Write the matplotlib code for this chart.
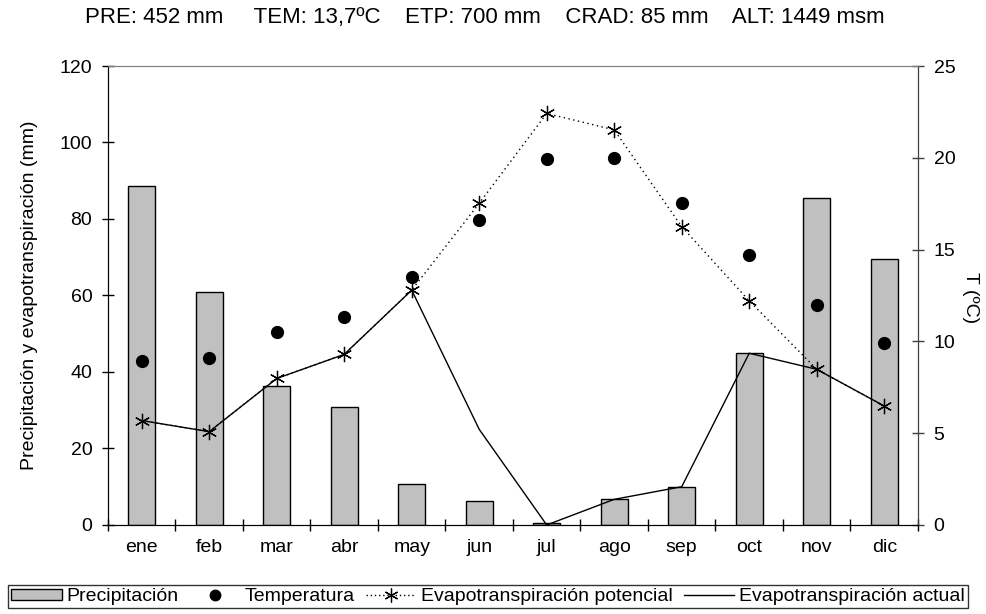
import matplotlib
matplotlib.use("Agg")
import matplotlib.pyplot as plt
from matplotlib.patches import Patch
from matplotlib.lines import Line2D
import numpy as np

plt.rcParams['font.family'] = ['Liberation Sans', 'DejaVu Sans']

meses = ["ene", "feb", "mar", "abr", "may", "jun", "jul", "ago", "sep", "oct", "nov", "dic"]
precipitacion = [88.6, 61.0, 36.3, 30.9, 10.7, 6.3, 0.5, 6.7, 10.0, 45.0, 85.6, 69.5]
temperatura = [8.95, 9.1, 10.5, 11.35, 13.5, 16.6, 19.95, 20.0, 17.55, 14.7, 12.0, 9.9]
etp = [27.3, 24.4, 38.3, 44.6, 61.4, 84.1, 107.6, 103.3, 78.0, 58.6, 40.7, 31.1]
etr = [27.3, 24.4, 38.3, 44.6, 61.4, 25.0, 0.0, 6.7, 10.0, 44.9, 40.7, 31.1]

titulo = "PRE: 452 mm     TEM: 13,7ºC    ETP: 700 mm    CRAD: 85 mm    ALT: 1449 msm"

x = np.arange(len(meses))
star = (6, 2, 0)

fig = plt.figure(figsize=(9.86, 6.14), dpi=100)
ax1 = fig.add_axes([0.1095, 0.145, 0.8215, 0.7475])
ax2 = ax1.twinx()

ax1.bar(x, precipitacion, width=0.4, color="#c0c0c0", edgecolor="black", linewidth=1, zorder=2)
ax1.plot(x, etp, color="black", linestyle=(0, (1, 2.5)), linewidth=1, marker=star,
         markersize=11, markeredgewidth=0.9, zorder=3)
ax1.plot(x, etr, color="black", linestyle="-", linewidth=1, zorder=4)
ax2.plot(x, temperatura, linestyle="none", marker="o", color="black", markersize=8.5, zorder=5)

ax1.set_xlim(-0.5, 11.5)
ax1.set_ylim(0, 120)
ax2.set_ylim(0, 25)
ax1.set_yticks(np.arange(0, 121, 20))
ax2.set_yticks(np.arange(0, 26, 5))

ax1.set_xticks(x)
ax1.set_xticklabels(meses)
ax1.set_xticks(np.arange(-0.5, 12, 1), minor=True)
ax1.tick_params(axis="x", which="major", length=0, pad=10, labelsize=14)
ax1.tick_params(axis="x", which="minor", direction="inout", length=8.5, width=1)
ax1.tick_params(axis="y", direction="inout", length=8.5, width=1, labelsize=14, pad=7)
ax2.tick_params(axis="y", direction="inout", length=8.5, width=1, labelsize=14, pad=7, colors="#404040")
ax2.tick_params(axis="y", labelcolor="black")

ax1.spines["top"].set_color("#808080")
ax2.spines["top"].set_color("#808080")
ax2.spines["right"].set_color("#404040")
ax1.spines["left"].set_color("#202020")

ax1.set_ylabel("Precipitación y evapotranspiración (mm)", fontsize=14)
ax1.yaxis.set_label_coords(-0.0864, 0.5)
fig.text(971 / 986, 1 - 298 / 614, "T (ºC)", rotation=270, ha="center", va="center", fontsize=14)

fig.text(0.492, 1 - 23 / 614, titulo, ha="center", va="baseline", fontsize=16)

handles = [
    Patch(facecolor="#c0c0c0", edgecolor="black", linewidth=1),
    Line2D([], [], linestyle="none", marker="o", color="black", markersize=7.5),
    Line2D([], [], color="black", linestyle=(0, (1, 2)), linewidth=1, marker=star,
           markersize=10, markeredgewidth=0.9),
    Line2D([], [], color="black", linewidth=1),
]
labels = ["Precipitación", "Temperatura", "Evapotranspiración potencial", "Evapotranspiración actual"]
leg = fig.legend(handles, labels, loc="center", bbox_to_anchor=(0.495, 0.0285), ncol=4,
                 fontsize=14, frameon=True, fancybox=False, edgecolor="black",
                 handlelength=2.6, handleheight=0.5, handletextpad=0.25, columnspacing=0.55,
                 borderpad=0.15, borderaxespad=0)
leg.get_frame().set_linewidth(1)

fig.savefig("out.png", dpi=100)
